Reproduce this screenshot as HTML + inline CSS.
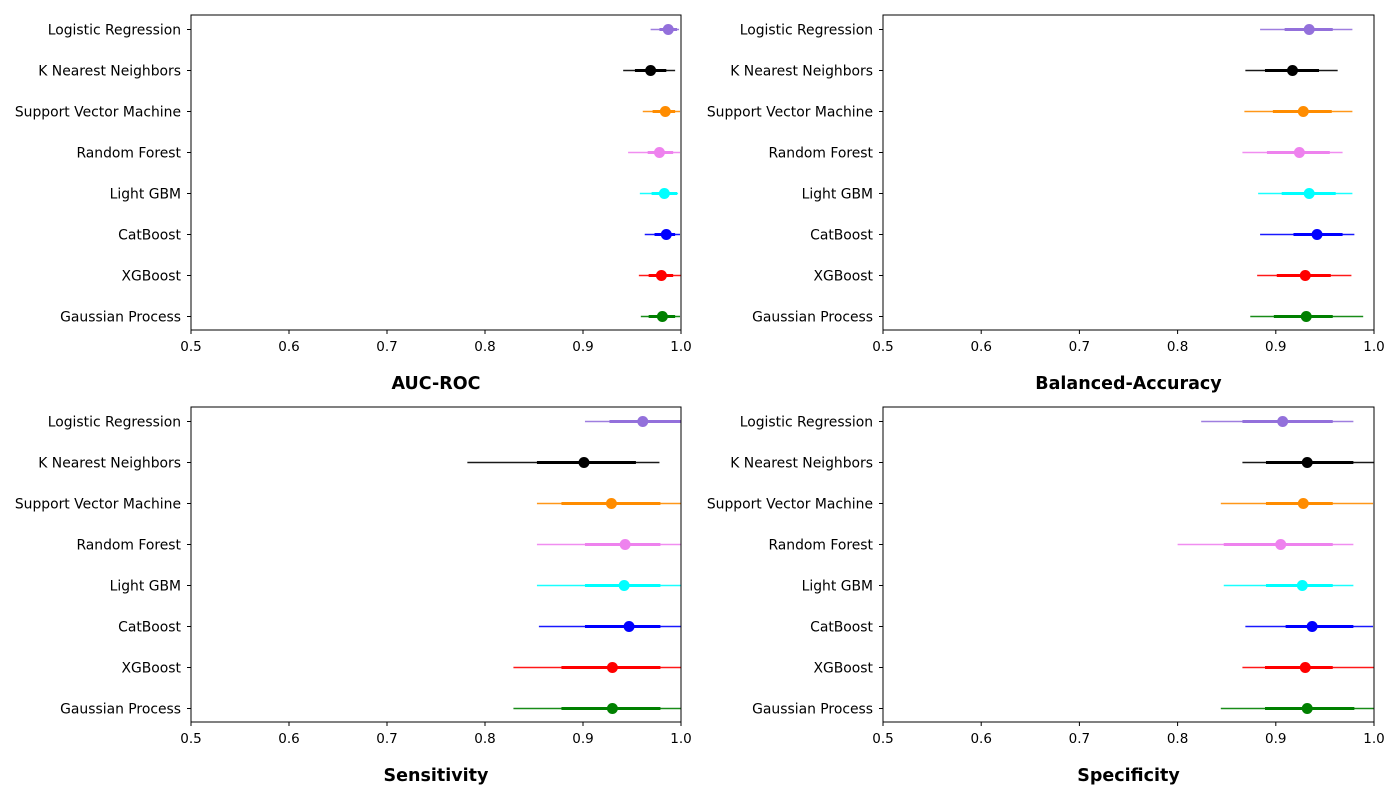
<!DOCTYPE html>
<html><head><meta charset="utf-8">
<style>
html,body{margin:0;padding:0;background:#fff;}
svg{display:block;font-family:"DejaVu Sans","Liberation Sans",sans-serif;}
</style></head>
<body>
<svg id="chart" width="1400" height="800"></svg>
<script>
const categories = ["Logistic Regression","K Nearest Neighbors","Support Vector Machine","Random Forest","Light GBM","CatBoost","XGBoost","Gaussian Process"];
const colors = ["#9370DB","#000000","#FF8C00","#EE82EE","#00FFFF","#0000FF","#FF0000","#008000"];
const xTicks = [0.5,0.6,0.7,0.8,0.9,1.0];
const xTickLabels = ["0.5","0.6","0.7","0.8","0.9","1.0"];
const panelTitles = ["AUC-ROC","Balanced-Accuracy","Sensitivity","Specificity"];
// per panel: [low, q1, point, q3, high] per category
const aucLow   = [0.969,0.941,0.961,0.946,0.958,0.963,0.957,0.959];
const aucQ1    = [0.978,0.953,0.971,0.966,0.970,0.973,0.967,0.967];
const aucPt    = [0.987,0.969,0.984,0.978,0.983,0.985,0.980,0.981];
const aucQ3    = [0.996,0.985,0.994,0.992,0.996,0.994,0.992,0.994];
const aucHigh  = [0.998,0.994,0.999,0.999,0.997,0.999,1.000,0.999];
const balLow   = [0.884,0.869,0.868,0.866,0.882,0.884,0.881,0.874];
const balQ1    = [0.909,0.889,0.897,0.891,0.906,0.918,0.901,0.898];
const balPt    = [0.934,0.917,0.928,0.924,0.934,0.942,0.930,0.931];
const balQ3    = [0.958,0.944,0.957,0.955,0.961,0.968,0.956,0.958];
const balHigh  = [0.978,0.963,0.978,0.968,0.978,0.980,0.977,0.989];
const senLow   = [0.902,0.782,0.853,0.853,0.853,0.855,0.829,0.829];
const senQ1    = [0.927,0.853,0.878,0.902,0.902,0.902,0.878,0.878];
const senPt    = [0.961,0.901,0.929,0.943,0.942,0.947,0.930,0.930];
const senQ3    = [1.010,0.954,0.979,0.979,0.979,0.979,0.979,0.979];
const senHigh  = [1.020,0.978,1.020,1.020,1.020,1.020,1.020,1.020];
const speLow   = [0.824,0.866,0.844,0.800,0.847,0.869,0.866,0.844];
const speQ1    = [0.866,0.890,0.890,0.847,0.890,0.910,0.889,0.889];
const spePt    = [0.907,0.932,0.928,0.905,0.927,0.937,0.930,0.932];
const speQ3    = [0.958,0.979,0.958,0.958,0.958,0.979,0.958,0.980];
const speHigh  = [0.979,1.010,0.999,0.979,0.979,0.999,1.010,1.010];

const panelData = [
  [aucLow,aucQ1,aucPt,aucQ3,aucHigh],
  [balLow,balQ1,balPt,balQ3,balHigh],
  [senLow,senQ1,senPt,senQ3,senHigh],
  [speLow,speQ1,spePt,speQ3,speHigh]
];
const panelBoxes = [
  {x0:191,x1:681,y0:15,y1:330},
  {x0:883,x1:1374,y0:15,y1:330},
  {x0:191,x1:681,y0:407,y1:722},
  {x0:883,x1:1374,y0:407,y1:722}
];
const NS="http://www.w3.org/2000/svg";
const svg=document.getElementById('chart');
function mk(tag,attrs,parent){const e=document.createElementNS(NS,tag);for(const k in attrs)e.setAttribute(k,attrs[k]);(parent||svg).appendChild(e);return e;}
const defs=mk('defs',{});
panelBoxes.forEach((b,p)=>{
  const g=mk('g',{});
  
  
  const xScale=v=>b.x0+(v-0.5)/0.5*(b.x1-b.x0);
  const yScale=i=>b.y0+14.5+i*((b.y1-b.y0-28)/7);
  const cp=mk('clipPath',{id:'clip'+p},defs);
  mk('rect',{x:b.x0,y:b.y0,width:b.x1-b.x0,height:b.y1-b.y0},cp);
  const marks=mk('g',{'clip-path':'url(#clip'+p+')'},g);
  const d=panelData[p];
  categories.forEach((c,i)=>{
    const y=yScale(i);
    const thin=mk('line',{x1:xScale(d[0][i]),x2:xScale(d[4][i]),y1:y,y2:y,stroke:colors[i],'stroke-width':1.5,'stroke-opacity':0.9},marks);
    
    
    const thick=mk('line',{x1:xScale(d[1][i]),x2:xScale(d[3][i]),y1:y,y2:y,stroke:colors[i],'stroke-width':3},marks);
    
    
    const pt=mk('circle',{cx:xScale(d[2][i]),cy:y,r:5.5,fill:colors[i]},marks);
    
    
    mk('line',{x1:b.x0-4,x2:b.x0,y1:y,y2:y,stroke:'#000','stroke-width':1},g);
    const t=mk('text',{x:b.x0-10,y:y+5,'text-anchor':'end','font-size':13.9,fill:'#000'},g);
    t.textContent=c;
    
    
  });
  xTicks.forEach((v,k)=>{
    const x=xScale(v);
    mk('line',{x1:x,x2:x,y1:b.y1,y2:b.y1+4,stroke:'#000','stroke-width':1},g);
    const t=mk('text',{x:x,y:b.y1+21,'text-anchor':'middle','font-size':13.5,fill:'#000'},g);
    t.textContent=xTickLabels[k];
    
    
  });
  mk('rect',{x:b.x0,y:b.y0,width:b.x1-b.x0,height:b.y1-b.y0,fill:'none',stroke:'#000','stroke-width':1},g);
  const tt=mk('text',{x:(b.x0+b.x1)/2,y:b.y1+59,'text-anchor':'middle','font-size':17.5,'font-weight':'bold',fill:'#000'},g);
  tt.textContent=panelTitles[p];
  
  
});
</script>
</body></html>
